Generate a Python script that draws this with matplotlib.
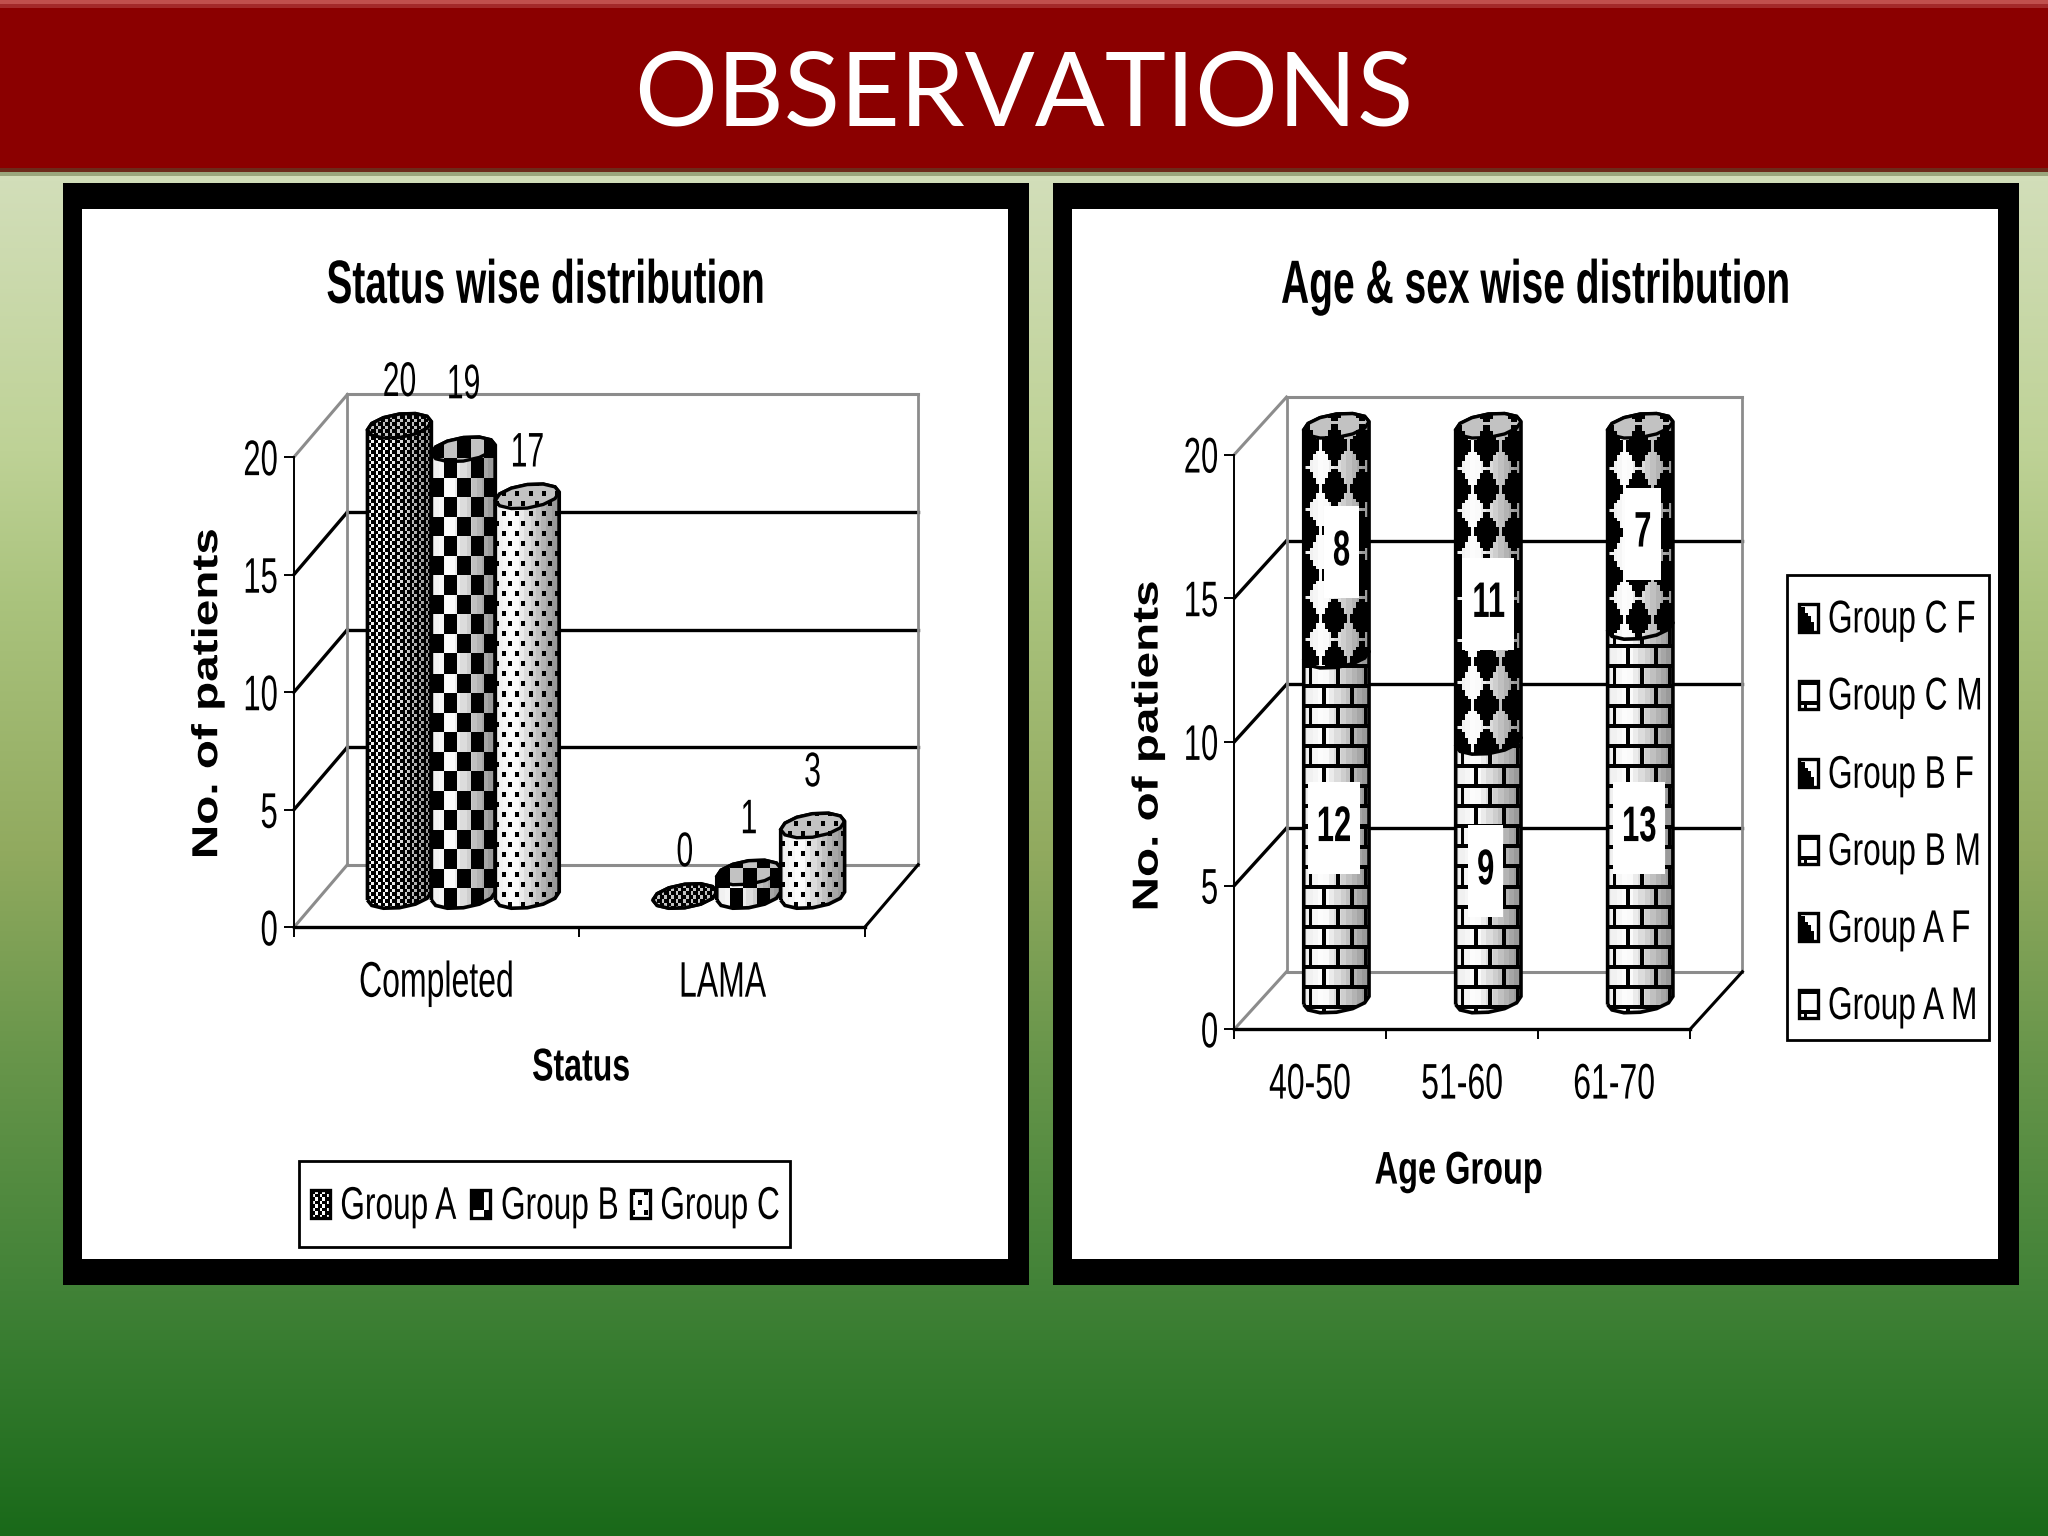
import numpy as np
import matplotlib
matplotlib.use("Agg")
import matplotlib.pyplot as plt
from matplotlib.patches import Rectangle, PathPatch
from matplotlib.path import Path
from matplotlib.patheffects import AbstractPathEffect
from matplotlib.transforms import Affine2D

plt.rcParams["font.family"] = ["Liberation Sans", "DejaVu Sans"]

W, H = 2048, 1536
S = W / 1568  # measured everything on a 1568 wide view

# data
status_cats = ["Completed", "LAMA"]
status_groups = ["Group A", "Group B", "Group C"]
group_a = [20, 0]
group_b = [19, 1]
group_c = [17, 3]

age_cats = ["40-50", "51-60", "61-70"]
age_legend = ["Group C F", "Group C M", "Group B F", "Group B M", "Group A F", "Group A M"]
male = [12, 9, 13]
female = [8, 11, 7]
y_ticks = [0, 5, 10, 15, 20]


class Squeeze(AbstractPathEffect):
    # source chart was stretched, so scale the glyph outlines the same way
    def __init__(self, sx=1.0, sy=1.0, anchor="center"):
        super().__init__()
        self.sx, self.sy, self.anchor = sx, sy, anchor

    def draw_path(self, renderer, gc, tpath, affine, rgbFace=None):
        box = tpath.get_extents(affine)
        cx = {"left": box.x0, "center": (box.x0 + box.x1) / 2, "right": box.x1}[self.anchor]
        cy = (box.y0 + box.y1) / 2
        squeezed = affine + Affine2D().translate(-cx, -cy).scale(self.sx, self.sy).translate(cx, cy)
        renderer.draw_path(gc, tpath, squeezed, rgbFace)


# textures, True means black
def tex_weave(x, y):
    check = ((x // 3.5).astype(int) + (y // 3.5).astype(int)) % 2 == 0
    return check | (x % 7 < 1.2)


def tex_checker(x, y):
    return ((x // 13).astype(int) + (y // 19.5).astype(int)) % 2 == 0


def tex_dots(x, y):
    row = (y // 10).astype(int)
    xs = (x + 6.5 * (row % 2)) % 13
    return (xs < 4) & (y % 10 < 5)


def tex_brick(x, y):
    row = (y // 20).astype(int)
    xs = (x + 13.5 * (row % 2) + 9) % 27
    return (y % 20 < 4) | (xs < 3.4)


def tex_diamond(x, y):
    # light diamonds on a 27 x 43 grid, the black ones are what is left
    qx = (x // 3) * 3
    qy = (y // 3) * 3
    a = np.abs((qx - 15 + 13.5) % 27 - 13.5) / 13.5
    b = np.abs((qy + 21.5) % 43 - 21.5) / 21.5
    return a + b >= 0.98


def shade(u):
    # cylinder lighting in steps: white on the left, falling to dark grey
    u = np.round(u * 12) / 12
    return np.interp(u, [0, 0.3, 0.65, 0.92, 1], [0.92, 1.0, 0.76, 0.6, 0.4])


z_now = [3.0]


def cylinder(ax, xc, y0, y1, w, eh, tex, cat_px, unit_px, top_cap=True):
    z = z_now[0]
    z_now[0] += 0.1
    t = np.linspace(0, np.pi, 7)
    cx = np.cos(t) * w / 2
    cy = np.sin(t) * eh
    tilt = np.cos(t) * eh * 0.35
    body_x = np.r_[xc + cx[::-1], xc + cx, xc + cx[-1]]
    body_y = np.r_[y0 - cy[::-1] + tilt[::-1], y1 + cy + tilt, y0 + tilt[-1]]
    body = PathPatch(Path(np.c_[body_x, body_y]), fc="none", ec="black", lw=2.6, zorder=z + 0.02, clip_on=False)
    ax.add_patch(body)

    ext = (xc - w / 2, xc + w / 2, y0 - eh * 1.5, y1 + eh * 1.5)
    h_px = max(int((y1 - y0 + 3 * eh) * unit_px), 2)
    w_px = max(int(w * cat_px), 2)
    x, y = np.meshgrid(np.arange(w_px, dtype=float), np.arange(h_px, dtype=float) + (y0 - eh * 1.5) * unit_px)
    light = shade(x / w_px)
    img = np.where(tex(x, y), 0.0, light)
    im = ax.imshow(img, cmap="gray", vmin=0, vmax=1, extent=ext, origin="lower", aspect="auto",
                   interpolation="nearest", zorder=z)
    im.set_clip_box(fig.bbox)
    im.set_clip_path(body)

    if top_cap:
        ex = np.r_[xc + cx, xc - cx, xc + cx[0]]
        ey = np.r_[y1 + cy + tilt, y1 - cy - tilt, y1 + tilt[0]]
        cap = PathPatch(Path(np.c_[ex, ey]), fc="none", ec="black", lw=2.4, zorder=z + 0.06, clip_on=False)
        ax.add_patch(cap)
        img2 = np.where(tex(x, y), 0.0, 0.76)
        im2 = ax.imshow(img2, cmap="gray", vmin=0, vmax=1, extent=ext, origin="lower", aspect="auto",
                        interpolation="nearest", zorder=z + 0.04)
        im2.set_clip_box(fig.bbox)
        im2.set_clip_path(cap)


def chart_axes(x0, x1, y0, y20, ncat, dx, dy, labels, ylab_pad, xlab_pad):
    ax = fig.add_axes([x0 * S / W, 1 - y0 * S / H, (x1 - x0) * S / W, (y0 - y20) * S / H])
    ax.patch.set_alpha(0)
    cat_px = (x1 - x0) * S / ncat
    unit_px = (y0 - y20) * S / 20
    ddx = dx * S / cat_px
    ddy = dy * S / unit_px

    # back wall and side wall
    for v in y_ticks:
        col, lw = ("#8c8c8c", 2.2) if v in (0, 20) else ("black", 2.4)
        ax.plot([ddx, ncat + ddx], [v + ddy, v + ddy], color=col, lw=lw, clip_on=False, zorder=1)
        ax.plot([0, ddx], [v, v + ddy], color=col, lw=lw, clip_on=False, zorder=1)
    ax.plot([ddx, ddx], [ddy, 20 + ddy], color="#8c8c8c", lw=2, clip_on=False, zorder=1)
    ax.plot([ncat + ddx, ncat + ddx], [ddy, 20 + ddy], color="#8c8c8c", lw=2, clip_on=False, zorder=1)
    ax.plot([ncat, ncat + ddx], [0, ddy], color="black", lw=2.2, clip_on=False, zorder=1)

    for side in ("top", "right"):
        ax.spines[side].set_visible(False)
    ax.spines["left"].set_linewidth(1.4)
    ax.spines["bottom"].set_linewidth(2.4)

    ax.set_yticks(y_ticks)
    ax.set_xticks(range(ncat + 1))
    ax.set_xticklabels([])
    ax.set_xticks(np.arange(ncat) + 0.5, labels, minor=True)
    ax.tick_params(axis="y", length=7, width=1.4, pad=ylab_pad, labelsize=36)
    ax.tick_params(axis="x", which="major", length=7, width=1.4)
    ax.tick_params(axis="x", which="minor", length=0, pad=xlab_pad, labelsize=36)
    for t in ax.get_yticklabels():
        t.set_path_effects([Squeeze(0.62, anchor="right")])
    for t in ax.get_xticklabels(minor=True):
        t.set_path_effects([Squeeze(0.64)])
    return ax, cat_px, unit_px, ddx, ddy


def lock(ax, ncat):
    ax.set_xlim(0, ncat)
    ax.set_ylim(0, 20)


def put(x, y, s, size, sx=0.6, sy=1.0, anchor="center", **kw):
    t = bg.text(x * S, y * S, s, fontsize=size, ha=anchor, va="center", **kw)
    t.set_path_effects([Squeeze(sx, sy, anchor)])
    return t


def swatch(x, y, tex):
    xx, yy = np.meshgrid(np.arange(19.0), np.arange(28.0))
    img = np.where(tex(xx, yy), 0.0, 1.0)
    bg.imshow(img, cmap="gray", vmin=0, vmax=1, aspect="auto", interpolation="nearest",
              extent=(x * S - 9.5, x * S + 9.5, y * S + 14, y * S - 14), zorder=3)
    bg.add_patch(Rectangle((x * S - 9.5, y * S - 14), 19, 28, fc="none", ec="black", lw=2.4, zorder=4))


fig = plt.figure(figsize=(W / 100, H / 100), dpi=100)
bg = fig.add_axes([0, 0, 1, 1])
bg.axis("off")

# slide background
stops_y = [0, 180, 450, 600, 850, 1050, 1290, 1536]
stops_r = [210, 210, 190, 170, 145, 105, 65, 25]
stops_g = [222, 222, 210, 195, 170, 150, 130, 105]
stops_b = [185, 185, 150, 125, 95, 75, 55, 25]
yy = np.arange(H)
grad = np.stack([np.interp(yy, stops_y, c) / 255 for c in (stops_r, stops_g, stops_b)], axis=1)
bg.imshow(grad[:, None, :], extent=(0, W, H, 0), aspect="auto", zorder=0)

# header band
bg.add_patch(Rectangle((0, 0), W, 172, fc="#8b0000", ec="none", zorder=1))
bg.add_patch(Rectangle((0, 0), W, 4, fc="#c0504d", ec="none", zorder=1.1))
bg.add_patch(Rectangle((0, 4), W, 4, fc="#a32a2a", ec="none", zorder=1.1))
bg.add_patch(Rectangle((0, 168), W, 4, fc="#6d2a1a", ec="none", zorder=1.1))
bg.add_patch(Rectangle((0, 172), W, 4, fc="#9aa67c", ec="none", zorder=1.1))
bg.text(1024, 96, "OBSERVATIONS", color="white", fontsize=74.5, family="Lato", ha="center", va="center", zorder=2)

# panels
for left in (48, 806):
    bg.add_patch(Rectangle((left * S, 140 * S), 740 * S, 844 * S, fc="black", ec="none", zorder=1))
    bg.add_patch(Rectangle(((left + 15) * S, 160 * S), 709 * S, 804 * S, fc="white", ec="none", zorder=1.5))

put(418, 220, "Status wise distribution", 44, sx=0.636, weight="bold", zorder=3)
put(1176, 220, "Age & sex wise distribution", 44, sx=0.638, weight="bold", zorder=3)
put(445, 818, "Status", 33, sx=0.70, weight="bold", zorder=3)
put(1117, 897, "Age Group", 33, sx=0.71, weight="bold", zorder=3)
for x, y in ((159, 531), (879, 571)):
    t = bg.text(x * S, y * S, "No. of patients", fontsize=26, weight="bold", rotation=90,
                ha="center", va="center", zorder=3)
    t.set_path_effects([Squeeze(1.0, 1.32)])

# left chart
ax1, cat1, unit1, ddx1, ddy1 = chart_axes(225, 662, 710, 350, 2, 41, 48, status_cats, 4, 24)
series = [(group_a, tex_weave), (group_b, tex_checker), (group_c, tex_dots)]
bar_w = 0.224
eh1 = 9 * S / unit1
nudge1 = [[0, 0], [0.9, 0.4], [0, 0.4]]
for k, (vals, tex) in enumerate(series):
    for i, v in enumerate(vals):
        xc = i + 0.5 + (k - 1) * bar_w + ddx1 / 2
        cylinder(ax1, xc, ddy1 / 2, v + ddy1 / 2, bar_w, eh1, tex, cat1, unit1)
        lab = ax1.text(xc, v + ddy1 / 2 + 1.8 + nudge1[k][i], str(v), fontsize=35, ha="center", va="center",
                       zorder=6, clip_on=False)
        lab.set_path_effects([Squeeze(0.62)])
lock(ax1, 2)

# right chart
ax2, cat2, unit2, ddx2, ddy2 = chart_axes(945, 1294, 788, 348, 3, 40, 44, age_cats, 4, 24)
bar_w2 = 50 * S / cat2
eh2 = 9 * S / unit2
nudge_m = [0, 0, -0.5]
nudge_f = [-0.4, -0.7, -0.25]
nudge_x_m = [-2, -2, -1]
nudge_x_f = [4, 0, 2]
for i in range(3):
    xc = i + 0.5 + ddx2 / 2
    base = ddy2 / 2
    cylinder(ax2, xc, base, base + male[i], bar_w2, eh2, tex_brick, cat2, unit2, top_cap=False)
    cylinder(ax2, xc, base + male[i], base + male[i] + female[i], bar_w2, eh2, tex_diamond, cat2, unit2)
    for v, b, ny, nx in ((male[i], base, nudge_m[i], nudge_x_m[i]), (female[i], base + male[i], nudge_f[i], nudge_x_f[i])):
        xl = xc + nx * S / cat2
        yl = b + v / 2 + ny
        bw = (14 + 13 * len(str(v))) * S / cat2
        ax2.add_patch(Rectangle((xl - bw / 2, yl - 1.6), bw, 3.2, fc="white", ec="none", zorder=5))
        lab = ax2.text(xl, yl, str(v), fontsize=36, weight="bold", ha="center", va="center", zorder=6)
        lab.set_path_effects([Squeeze(0.62)])
lock(ax2, 3)

# legends
bg.add_patch(Rectangle((229 * S, 889 * S), 376 * S, 66 * S, fc="white", ec="black", lw=2, zorder=2))
for name, x_sw, x_txt, tex in zip(status_groups, (245, 368, 490), (260, 383, 505), (tex_weave, tex_checker, tex_dots)):
    swatch(x_sw, 922, tex)
    put(x_txt, 924, name, 33, sx=0.69, anchor="left", zorder=3)

bg.add_patch(Rectangle((1368 * S, 440 * S), 155 * S, 356 * S, fc="white", ec="black", lw=2, zorder=2))
for name, y_leg in zip(age_legend, (473, 532, 592, 651, 710, 769)):
    swatch(1385, y_leg, tex_diamond if name.endswith("F") else tex_brick)
    put(1399, y_leg + 2, name, 33, sx=0.69, anchor="left", zorder=3)

bg.set_xlim(0, W)
bg.set_ylim(H, 0)

fig.savefig("out.png", dpi=100)
